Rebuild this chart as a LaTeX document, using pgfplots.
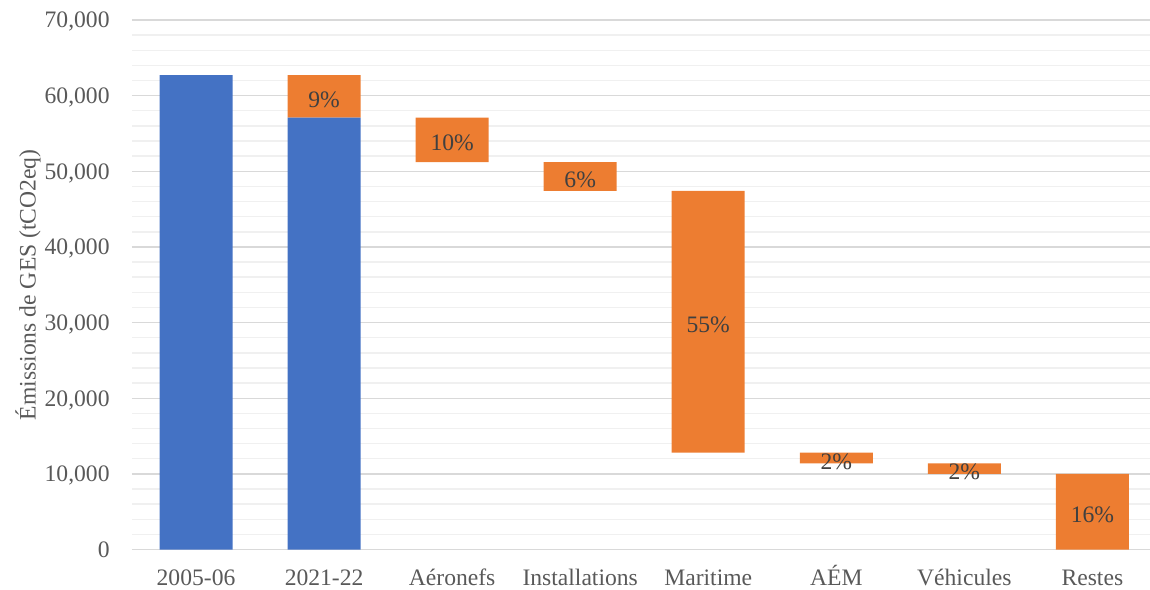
\documentclass[border=0pt]{standalone}
\usepackage{pgfplots}
\pgfplotsset{compat=1.18}
\usepackage{fontspec}
\setmainfont{Liberation Serif}

\definecolor{barblue}{HTML}{4472C4}
\definecolor{barorange}{HTML}{ED7D31}
\definecolor{ticktext}{HTML}{595959}
\definecolor{labeltext}{HTML}{404040}
\definecolor{majgrid}{HTML}{D9D9D9}
\definecolor{mingrid}{HTML}{F0F0F0}
\newcommand\chartfont{\fontsize{11.8pt}{14pt}\selectfont}

\pgfplotsset{
  frame/.style={
    at={(0,0)}, anchor=south west,
    scale only axis, width=509pt, height=264.75pt,
    xmin=-0.5, xmax=7.45, ymin=0, ymax=70000,
  },
}

\begin{document}
\begin{tikzpicture}
% page frame: plot area plus room for the labels around it
\path[use as bounding box] (-66pt,-19.75pt) rectangle (509pt,274.75pt);
\begin{axis}[
  frame,
  ybar stacked, bar width=0.57,
  scaled y ticks=false,
  xtick={0,...,7},
  xticklabels={2005-06,2021-22,Aéronefs,Installations,Maritime,AÉM,Véhicules,Restes},
  ytick={0,10000,20000,30000,40000,50000,60000,70000},
  yticklabels={0,{10,000},{20,000},{30,000},{40,000},{50,000},{60,000},{70,000}},
  minor ytick={2000,4000,6000,8000,12000,14000,16000,18000,22000,24000,26000,28000,
    32000,34000,36000,38000,42000,44000,46000,48000,52000,54000,56000,58000,
    62000,64000,66000,68000},
  ymajorgrids, yminorgrids,
  major grid style={draw=majgrid, line width=0.7pt},
  minor grid style={draw=mingrid, line width=0.7pt},
  axis line style={draw=none},
  tick style={draw=none},
  xticklabel style={font=\chartfont, text=ticktext, anchor=base, yshift=-18pt},
  yticklabel style={font=\chartfont, text=ticktext, anchor=base east, inner sep=0pt,
    xshift=-11pt, yshift=-3.9pt},
  ylabel={Émissions de GES (tCO2eq)},
  every axis y label/.style={at={(axis description cs:0,0.5)}, xshift=-52pt,
    rotate=90, anchor=center, font=\chartfont, text=ticktext},
]
% invisible base that lifts each step of the waterfall
\addplot[fill=none, draw=none] coordinates {
  (0,0) (1,0) (2,51200) (3,47400) (4,12800) (5,11400) (6,10000) (7,0)};
% totals for the two years
\addplot[fill=barblue, draw=none] coordinates {
  (0,62700) (1,57100) (2,0) (3,0) (4,0) (5,0) (6,0) (7,0)};
% share of each source
\addplot[fill=barorange, draw=none] coordinates {
  (0,0) (1,5600) (2,5900) (3,3800) (4,34600) (5,1400) (6,1400) (7,10000)};
\end{axis}
% percentage labels, set at the middle of each orange step
\begin{axis}[frame, hide axis]
\addplot[only marks, mark=none,
  point meta=explicit symbolic,
  nodes near coords,
  nodes near coords style={anchor=center, yshift=-1.7pt, font=\chartfont, text=labeltext}]
  coordinates {
  (1,59900) [9\%]
  (2,54150) [10\%]
  (3,49300) [6\%]
  (4,30100) [55\%]
  (5,12100) [2\%]
  (6,10700) [2\%]
  (7,5000) [16\%]};
\end{axis}
\end{tikzpicture}
\end{document}
